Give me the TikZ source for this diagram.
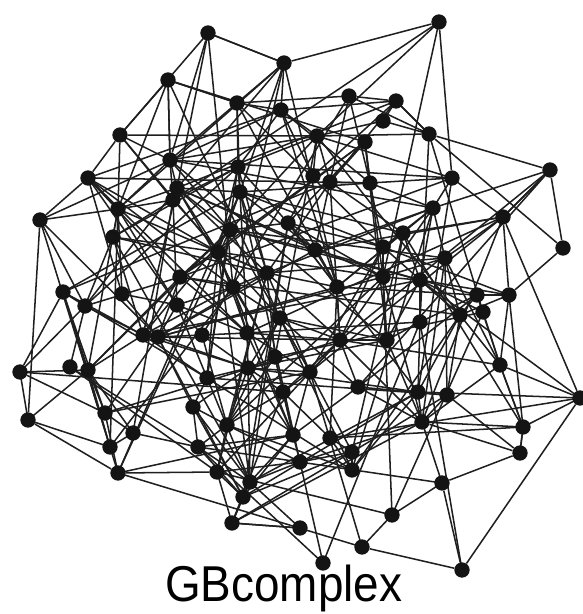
\documentclass[tikz,border=0pt]{standalone}
\usepackage{fontspec}
\newfontfamily\labelfont{Liberation Sans}
\usetikzlibrary{backgrounds}
\def\nodelist{208/33, 439/22, 284/63, 168/80, 237/103, 281/110, 349/96, 396/101, 383/121, 120/135,
317/136, 365/142, 429/134, 170/160, 238/167, 550/170, 452/178, 88/178, 177/188, 240/192,
313/176, 330/182, 370/183, 173/200, 118/209, 40/220, 433/208, 503/217, 113/237, 230/230,
288/223, 403/233, 563/248, 383/247, 315/250, 218/252, 445/258, 267/273, 180/277, 383/277,
420/280, 337/287, 233/287, 63/292, 122/294, 177/305, 477/295, 509/295, 85/306, 483/312,
460/315, 280/318, 420/322, 143/335, 158/337, 202/335, 247/333, 340/340, 387/340, 500/365,
20/372, 70/367, 88/370, 207/378, 248/368, 275/357, 310/372, 358/387, 418/392, 447/395,
580/398, 283/392, 193/407, 105/413, 28/420, 227/425, 422/422, 523/427, 133/433, 293/435,
330/438, 110/447, 198/447, 520/453, 352/452, 300/462, 352/470, 118/473, 217/472, 250/482,
442/483, 243/497, 392/515, 232/523, 300/528, 362/547, 323/563, 462/570}
\begin{document}
\begin{tikzpicture}[x=0.03cm,y=-0.03cm,
  dot/.style={circle,fill=black!92,inner sep=0pt,minimum size=0.46cm},
  edge/.style={line width=1.3pt,black!88}]
\useasboundingbox (0,0) rectangle (582,614);
\foreach \px/\py [count=\i] in \nodelist { \node[dot] (n\i) at (\px,\py) {}; }
\pgfmathsetseed{2718}
\begin{scope}[on background layer]
\foreach \xa/\ya [count=\i] in \nodelist {
  \foreach \xb/\yb [count=\j] in \nodelist {
    \ifnum\j>\i
      \pgfmathsetmacro\dd{veclen(\xb-\xa,\yb-\ya)}
      \pgfmathsetmacro\pp{0.55/(1+(\dd/80)^4)+(\dd<290)*0.045}
      \pgfmathtruncatemacro\ok{rnd<\pp ? 1 : 0}
      \ifnum\ok=1 \draw[edge] (n\i.center) -- (n\j.center); \fi
    \fi
  }
}
% clearly visible outer links
\draw[edge] (n3) -- (n2) (n2) -- (n17) (n13) -- (n16) (n16) -- (n33) (n13) -- (n33)
  (n71) -- (n98) (n33) -- (n48) (n16) -- (n28) (n98) -- (n96) (n98) -- (n91)
  (n1) -- (n3) (n1) -- (n14) (n4) -- (n5) (n4) -- (n14) (n7) -- (n8) (n8) -- (n13)
  (n10) -- (n18) (n18) -- (n26) (n26) -- (n75) (n75) -- (n88) (n88) -- (n89) (n94) -- (n95)
  (n61) -- (n44) (n61) -- (n74) (n28) -- (n48) (n71) -- (n28) (n11) -- (n13)
  (n78) -- (n84) (n84) -- (n91) (n84) -- (n70) (n78) -- (n60) (n71) -- (n60) (n84) -- (n77)
  (n10) -- (n11) (n10) -- (n25);
\end{scope}
\node[anchor=base west,inner sep=0pt,font=\labelfont\fontsize{43}{43}\selectfont,xscale=0.91] (lbl) at (165,601) {GBcomplex};
\end{tikzpicture}
\end{document}
